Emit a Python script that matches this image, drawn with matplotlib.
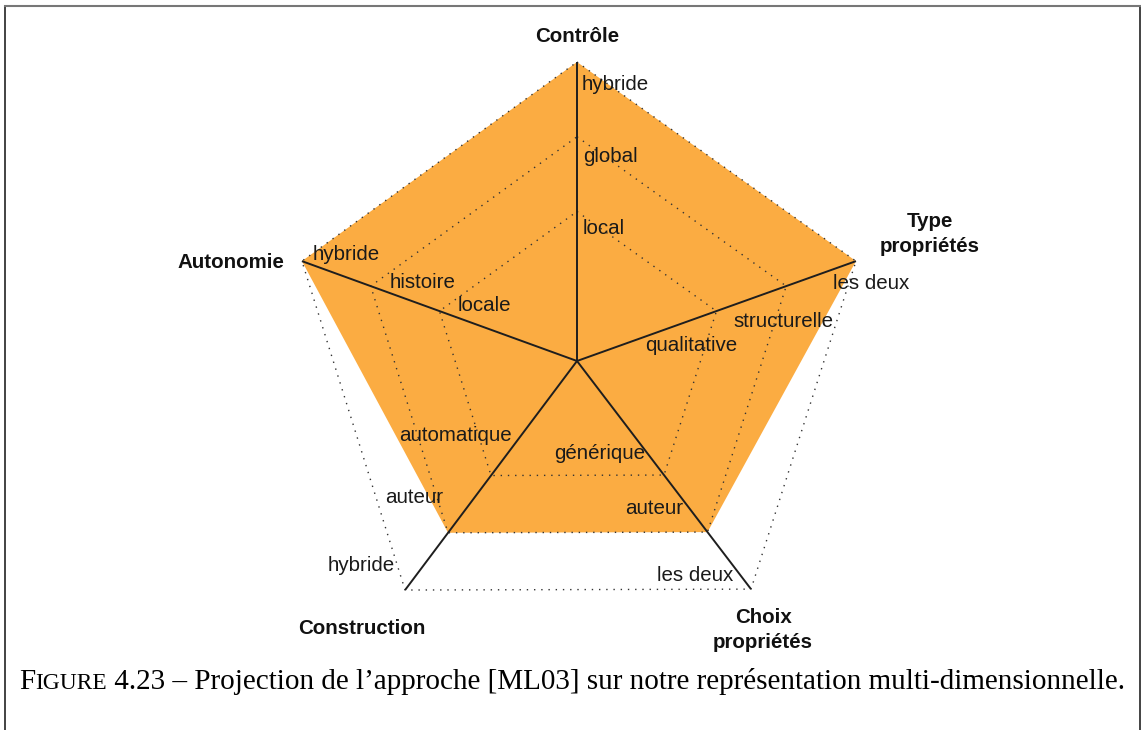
import matplotlib
matplotlib.use("Agg")
import matplotlib.pyplot as plt
from matplotlib.lines import Line2D
import numpy as np

# ---- data -------------------------------------------------------------
axis_names = ["Contrôle", "Type\npropriétés", "Choix\npropriétés", "Construction", "Autonomie"]
level_labels = [
    ["local", "global", "hybride"],
    ["qualitative", "structurelle", "les deux"],
    ["générique", "auteur", "les deux"],
    ["automatique", "auteur", "hybride"],
    ["locale", "histoire", "hybride"],
]
approach_levels = [3, 3, 2, 2, 3]
caption_rest = " 4.23 – Projection de l’approche [ML03] sur notre représentation multi-dimensionnelle."

# ---- layout -----------------------------------------------------------
W, H, DPI = 1141, 730, 100
CX, CY, R = 577, 361, 299.0
# spoke end points at full radius
spokes = np.array([[0.0, 1.0], [0.933, 0.334], [0.582, -0.763],
                   [-0.575, -0.766], [-0.920, 0.334]])
ORANGE = "#FBAC42"
SANS = "Liberation Sans"
FS = 14.8

# per-label pixel offsets (dx right, dy down) and alignment
label_offsets = [
    [(6, 17), (6, 20), (5, 23)],
    [(-71, 34), (-53, 35), (-23, 22)],
    [(-19, -22), (-24, -24), (-18, -14)],
    [(21, -40), (-5, -35), (-10, -25)],
    [(18, -6), (19, -4), (11, -7)],
]
label_ha = ["left", "left", "right", "right", "left"]

# title anchors in pixels
title_pos = [(577, 37, "center"), (930, 234, "center"), (763, 630, "center"),
             (362, 628, "center"), (284, 262, "right")]


def radius(level):
    return (level + 1) / 4.0


fig = plt.figure(figsize=(W / DPI, H / DPI), dpi=DPI)
ax = fig.add_axes([0, 0, 1, 1])
ax.set_xlim(-CX / R, (W - CX) / R)
ax.set_ylim(-(H - CY) / R, CY / R)
ax.axis("off")

# filled profile of the approach
r = np.array([radius(v) for v in approach_levels])
poly = spokes * r[:, None]
ax.fill(poly[:, 0], poly[:, 1], color=ORANGE, lw=0, zorder=1)

# dotted level rings
for lvl in (1, 2, 3):
    ring = spokes * radius(lvl)
    ring = np.vstack([ring, ring[:1]])
    ax.plot(ring[:, 0], ring[:, 1], color="#333333", lw=1.0,
            linestyle=(0, (1, 4.2)), zorder=2)

# spokes
for sx, sy in spokes:
    ax.plot([0, sx], [0, sy], color="#1e1e1e", lw=1.4, zorder=3,
            solid_capstyle="butt")

# level labels
for i, labels in enumerate(level_labels):
    for k, text in enumerate(labels):
        p = spokes[i] * radius(k + 1)
        dx, dy = label_offsets[i][k]
        ax.annotate(text, xy=(p[0], p[1]), xytext=(dx, -dy),
                    textcoords="offset pixels", ha=label_ha[i], va="center",
                    fontsize=FS, family=SANS, color="#1a1a1a", zorder=4)

# axis titles
for name, (px, py, ha) in zip(axis_names, title_pos):
    fig.text(px / W, 1 - py / H, name, ha=ha, va="center", fontsize=FS,
             family=SANS, fontweight="bold", color="#111111",
             multialignment="center", linespacing=1.35)

# frame
def fx(px):
    return px / W


def fy(py):
    return 1 - py / H


fig.add_artist(Line2D([fx(5), fx(5)], [fy(6), fy(730)], color="#222222", lw=1.2))
fig.add_artist(Line2D([fx(1140), fx(1140)], [fy(6), fy(730)], color="#222222", lw=1.2))
fig.add_artist(Line2D([fx(5), fx(1140)], [fy(6), fy(6)], color="#777777", lw=1.5))

# caption with small-caps "FIGURE"
SERIF = "Liberation Serif"
CS = 21.0
base_y = fy(689)
renderer = fig.canvas.get_renderer()
x = fx(19)
for txt, size in (("F", CS), ("IGURE", CS * 0.8), (caption_rest, CS)):
    t = fig.text(x, base_y, txt, ha="left", va="baseline", fontsize=size,
                 family=SERIF, color="black")
    bb = t.get_window_extent(renderer=renderer)
    x = bb.x1 / W

fig.savefig("out.png", dpi=DPI)
